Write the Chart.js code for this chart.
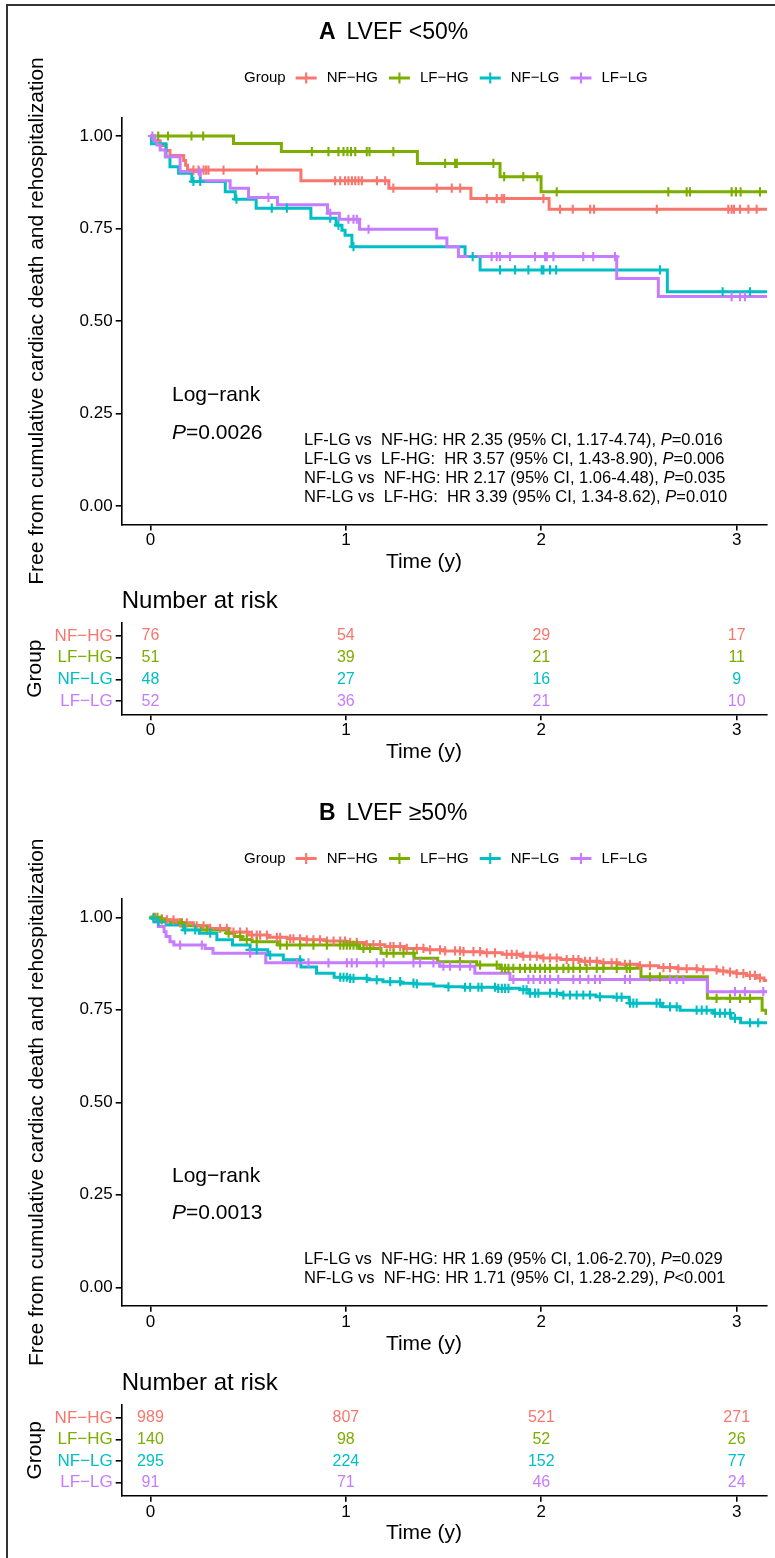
<!DOCTYPE html>
<html>
<head>
<meta charset="utf-8">
<title>Survival by LVEF group</title>
<script src="https://cdn.jsdelivr.net/npm/chart.js@4.4.1/dist/chart.umd.min.js"></script>
<style>
    html, body { margin: 0; padding: 0; background: #fff; }
    #page { position: relative; width: 775px; height: 1558px; overflow: hidden; background: #fff; }
    #page canvas { position: absolute; left: 0; top: 0; }
    #frame { position: absolute; left: 6px; top: 4px; right: -10px; bottom: -10px;
             border-left: 2px solid #333; border-top: 2px solid #333; }
</style>
</head>
<body>
<div id="page">
    <div id="frame"></div>
    <canvas id="kmA" width="775" height="1558"></canvas>
    <canvas id="riskA" width="775" height="1558"></canvas>
    <canvas id="kmB" width="775" height="1558"></canvas>
    <canvas id="riskB" width="775" height="1558"></canvas>
</div>
<script>
const groups = ['NF\u2212HG', 'LF\u2212HG', 'NF\u2212LG', 'LF\u2212LG'];
const groupColors = ['#F8766D', '#7CAE00', '#00BFC4', '#C77CFF'];
const timeTicks = [0, 1, 2, 3];
const survTicks = [0, 0.25, 0.5, 0.75, 1];
const riskTimes = [0, 1, 2, 3];

// Panel A: LVEF <50%
const aNfHgTime = [0, 0.02, 0.05, 0.08, 0.10, 0.17, 0.18, 0.19, 0.77, 1.22, 1.64, 2.04, 3.16];
const aNfHgSurv = [1, 0.987, 0.974, 0.961, 0.947, 0.934, 0.921, 0.908, 0.879, 0.859, 0.831, 0.802, 0.802];
const aNfHgCens = [0.22, 0.246, 0.272, 0.285, 0.297, 0.374, 0.545, 0.945, 0.971, 0.996, 1.013, 1.031, 1.048, 1.065, 1.082, 1.159, 1.201, 1.243, 1.465, 1.542, 1.585, 1.721, 1.772, 1.798, 1.81, 2.011, 2.096, 2.161, 2.25, 2.27, 2.591, 2.957, 2.974, 2.986, 3.017, 3.06, 3.102];

const aLfHgTime = [0, 0.425, 0.67, 1.366, 1.789, 1.999, 3.16];
const aLfHgSurv = [1, 0.980, 0.958, 0.926, 0.890, 0.849, 0.849];
const aLfHgCens = [0.04, 0.09, 0.21, 0.27, 0.826, 0.911, 0.962, 0.988, 1.008, 1.026, 1.048, 1.107, 1.121, 1.243, 1.508, 1.559, 1.568, 1.755, 1.81, 1.908, 1.98, 2.079, 2.65, 2.744, 2.761, 2.974, 2.996, 3.02, 3.119];

const aNfLgTime = [0, 0.005, 0.08, 0.10, 0.144, 0.212, 0.383, 0.434, 0.541, 0.821, 0.95, 0.98, 0.996, 1.031, 1.61, 1.687, 2.645, 3.16];
const aNfLgSurv = [1, 0.979, 0.944, 0.917, 0.899, 0.877, 0.849, 0.829, 0.805, 0.778, 0.759, 0.745, 0.732, 0.701, 0.674, 0.638, 0.579, 0.579];
const aNfLgCens = [0.22, 0.255, 0.44, 0.621, 0.698, 0.92, 0.962, 1.039, 1.649, 1.789, 1.866, 1.934, 2.002, 2.011, 2.045, 2.076, 2.607, 2.928, 3.068];

const aLfLgTime = [0, 0.016, 0.033, 0.05, 0.076, 0.152, 0.255, 0.408, 0.502, 0.65, 0.906, 0.967, 1.07, 1.465, 1.517, 1.576, 2.386, 2.599, 3.16];
const aLfLgSurv = [1, 0.989, 0.976, 0.962, 0.944, 0.904, 0.879, 0.859, 0.834, 0.814, 0.791, 0.775, 0.748, 0.724, 0.701, 0.674, 0.615, 0.566, 0.566];
const aLfLgCens = [0.01, 0.25, 0.604, 0.92, 1.013, 1.039, 1.056, 1.116, 1.746, 1.772, 1.789, 1.84, 1.968, 2.019, 2.028, 2.062, 2.215, 2.266, 2.377, 2.974, 3.017, 3.042];

const aRiskNfHg = [76, 54, 29, 17];
const aRiskLfHg = [51, 39, 21, 11];
const aRiskNfLg = [48, 27, 16, 9];
const aRiskLfLg = [52, 36, 21, 10];

const aHrText = [
    'LF-LG vs  NF-HG: HR 2.35 (95% CI, 1.17-4.74), ',
    'LF-LG vs  LF-HG:  HR 3.57 (95% CI, 1.43-8.90), ',
    'NF-LG vs  NF-HG: HR 2.17 (95% CI, 1.06-4.48), ',
    'NF-LG vs  LF-HG:  HR 3.39 (95% CI, 1.34-8.62), '
];
const aHrP = ['=0.016', '=0.006', '=0.035', '=0.010'];

// Panel B: LVEF >=50%
const bNfHgTime = [0, 0.03, 0.08, 0.15, 0.22, 0.30, 0.40, 0.50, 0.60, 0.70, 0.80, 0.90, 1.00, 1.10, 1.20, 1.30, 1.40, 1.50, 1.60, 1.70, 1.80, 1.90, 2.00, 2.10, 2.20, 2.30, 2.40, 2.50, 2.60, 2.70, 2.80, 2.90, 2.95, 3.00, 3.05, 3.10, 3.14, 3.16];
const bNfHgSurv = [1, 0.996, 0.993, 0.985, 0.977, 0.970, 0.960, 0.952, 0.946, 0.942, 0.939, 0.936, 0.932, 0.926, 0.921, 0.916, 0.912, 0.909, 0.907, 0.904, 0.900, 0.895, 0.890, 0.886, 0.881, 0.877, 0.873, 0.869, 0.864, 0.861, 0.858, 0.855, 0.852, 0.848, 0.843, 0.836, 0.829, 0.829];
const bNfHgCens = [0.024, 0.058, 0.084, 0.118, 0.152, 0.186, 0.237, 0.272, 0.306, 0.357, 0.391, 0.425, 0.459, 0.493, 0.519, 0.544, 0.561, 0.596, 0.647, 0.664, 0.715, 0.732, 0.766, 0.80, 0.834, 0.868, 0.903, 0.937, 0.971, 0.996, 1.022, 1.056, 1.107, 1.141, 1.175, 1.227, 1.244, 1.278, 1.312, 1.363, 1.397, 1.431, 1.482, 1.508, 1.559, 1.584, 1.602, 1.653, 1.687, 1.721, 1.763, 1.823, 1.849, 1.874, 1.908, 1.943, 1.977, 2.011, 2.045, 2.079, 2.13, 2.164, 2.19, 2.224, 2.249, 2.284, 2.318, 2.36, 2.386, 2.428, 2.454, 2.505, 2.556, 2.625, 2.659, 2.701, 2.744, 2.795, 2.829, 2.897, 2.931, 2.966, 3.0, 3.034, 3.068, 3.093, 3.119];

const bLfHgTime = [0, 0.05, 0.10, 0.17, 0.26, 0.39, 0.43, 0.47, 0.52, 0.65, 1.07, 1.18, 1.35, 1.47, 1.67, 1.79, 2.51, 2.85, 3.13, 3.15, 3.16];
const bLfHgSurv = [1, 0.993, 0.985, 0.977, 0.966, 0.957, 0.948, 0.940, 0.934, 0.925, 0.916, 0.903, 0.889, 0.880, 0.871, 0.862, 0.839, 0.781, 0.749, 0.740, 0.740];
const bLfHgCens = [0.016, 0.036, 0.058, 0.161, 0.289, 0.40, 0.459, 0.493, 0.544, 0.664, 0.698, 0.766, 0.834, 0.903, 0.971, 0.988, 1.005, 1.022, 1.039, 1.056, 1.09, 1.124, 1.209, 1.244, 1.295, 1.346, 1.584, 1.687, 1.772, 1.798, 1.815, 1.832, 1.857, 1.891, 1.917, 1.943, 1.968, 1.994, 2.019, 2.045, 2.079, 2.113, 2.139, 2.164, 2.198, 2.232, 2.284, 2.318, 2.386, 2.437, 2.454, 2.556, 2.607, 2.897, 2.966, 3.017, 3.068];

const bNfLgTime = [0, 0.01, 0.02, 0.08, 0.17, 0.25, 0.34, 0.42, 0.51, 0.60, 0.68, 0.77, 0.85, 0.94, 1.02, 1.11, 1.19, 1.28, 1.36, 1.45, 1.52, 1.60, 1.77, 1.89, 1.94, 2.11, 2.28, 2.37, 2.45, 2.62, 2.71, 2.88, 2.97, 3.02, 3.16];
const bNfLgSurv = [1, 0.997, 0.988, 0.979, 0.966, 0.957, 0.939, 0.925, 0.912, 0.898, 0.885, 0.866, 0.849, 0.838, 0.835, 0.831, 0.826, 0.822, 0.820, 0.814, 0.812, 0.811, 0.808, 0.804, 0.795, 0.790, 0.785, 0.784, 0.768, 0.758, 0.749, 0.741, 0.727, 0.715, 0.715];
const bNfLgCens = [0.016, 0.041, 0.178, 0.229, 0.306, 0.51, 0.544, 0.613, 0.766, 0.971, 0.988, 1.005, 1.022, 1.039, 1.107, 1.158, 1.227, 1.278, 1.346, 1.363, 1.525, 1.61, 1.636, 1.678, 1.695, 1.763, 1.78, 1.798, 1.815, 1.832, 1.908, 1.925, 1.943, 1.968, 1.985, 2.045, 2.079, 2.113, 2.147, 2.181, 2.215, 2.249, 2.30, 2.386, 2.411, 2.454, 2.471, 2.488, 2.59, 2.607, 2.659, 2.693, 2.795, 2.821, 2.846, 2.889, 2.914, 2.94, 2.966, 2.991, 3.068, 3.11];

const bLfLgTime = [0, 0.02, 0.04, 0.07, 0.08, 0.10, 0.12, 0.28, 0.32, 0.59, 1.48, 1.66, 1.84, 2.85, 3.16];
const bLfLgSurv = [1, 0.988, 0.975, 0.961, 0.948, 0.934, 0.925, 0.916, 0.903, 0.877, 0.868, 0.849, 0.832, 0.799, 0.799];
const bLfLgCens = [0.152, 0.263, 0.51, 0.749, 0.809, 0.911, 1.005, 1.03, 1.056, 1.158, 1.193, 1.346, 1.38, 1.448, 1.499, 1.533, 1.584, 1.636, 1.857, 1.934, 1.96, 1.994, 2.019, 2.045, 2.087, 2.164, 2.198, 2.241, 2.275, 2.30, 2.428, 2.454, 2.659, 2.693, 2.727, 2.991, 3.042, 3.136];

const bRiskNfHg = [989, 807, 521, 271];
const bRiskLfHg = [140, 98, 52, 26];
const bRiskNfLg = [295, 224, 152, 77];
const bRiskLfLg = [91, 71, 46, 24];

const bHrText = [
    'LF-LG vs  NF-HG: HR 1.69 (95% CI, 1.06-2.70), ',
    'NF-LG vs  NF-HG: HR 1.71 (95% CI, 1.28-2.29), '
];
const bHrP = ['=0.029', '<0.001'];

const FONT = "'Liberation Sans', Arial, Helvetica, sans-serif";
Chart.defaults.font.family = FONT;
Chart.defaults.color = '#000';

const X_AXIS_H = 32;   // height of the bottom axis box (labels are clipped to it)

// value of the step curve at time t
function survAt(times, surv, t) {
    let s = surv[0];
    for (let i = 0; i < times.length; i++) {
        if (times[i] <= t) s = surv[i];
    }
    return s;
}

function drawItalicP(ctx, x, y, before, after, size) {
    ctx.font = size + 'px ' + FONT;
    ctx.fillText(before, x, y);
    x += ctx.measureText(before).width;
    ctx.font = 'italic ' + size + 'px ' + FONT;
    ctx.fillText('P', x, y);
    x += ctx.measureText('P').width;
    ctx.font = size + 'px ' + FONT;
    ctx.fillText(after, x, y);
}

const axisLine = { display: true, color: '#000', width: 1.6 };
const tickGrid = { drawOnChartArea: false, drawTicks: true, tickLength: 6, color: '#000', tickColor: '#000', lineWidth: 1.6, tickWidth: 1.6 };

function timeScale() {
    return {
        type: 'linear',
        min: -0.147,
        max: 3.155,
        afterFit: function (s) { s.height = X_AXIS_H; },
        afterBuildTicks: function (s) { s.ticks = timeTicks.map(v => ({ value: v })); },
        grid: tickGrid,
        border: axisLine,
        ticks: { font: { size: 17 }, color: '#000', padding: 0, maxRotation: 0, autoSkip: false }
    };
}

function kmChart(id, times, survs, cens, deco) {
    const datasets = [];
    groups.forEach(function (g, i) {
        datasets.push({
            type: 'line',
            label: g,
            data: times[i].map((t, j) => ({ x: t, y: survs[i][j] })),
            borderColor: groupColors[i],
            borderWidth: 3,
            stepped: 'before',
            pointRadius: 0,
            fill: false,
            order: 13 - i
        });
        datasets.push({
            type: 'scatter',
            label: g + ' censored',
            data: cens[i].map(t => ({ x: t, y: survAt(times[i], survs[i], t) })),
            pointStyle: 'cross',
            pointRadius: 4.6,
            pointBorderWidth: 2.1,
            borderColor: groupColors[i],
            backgroundColor: groupColors[i],
            order: 3 - i
        });
    });

    return new Chart(document.getElementById(id), {
        type: 'scatter',
        data: { datasets: datasets },
        options: {
            responsive: false,
            animation: false,
            layout: { padding: { left: 0, right: 8, top: deco.top, bottom: 1558 - deco.bottom - X_AXIS_H } },
            plugins: { legend: { display: false }, tooltip: { enabled: false } },
            scales: {
                x: timeScale(),
                y: {
                    type: 'linear',
                    min: -0.05,
                    max: 1.05,
                    afterFit: function (s) { s.width = 121.7; },
                    afterBuildTicks: function (s) { s.ticks = survTicks.map(v => ({ value: v })); },
                    grid: tickGrid,
                    border: axisLine,
                    ticks: { font: { size: 17 }, color: '#000', padding: 3, callback: v => v.toFixed(2) },
                    title: {
                        display: true,
                        text: 'Free from cumulative cardiac death and rehospitalization',
                        font: { size: 21 },
                        color: '#000',
                        padding: { top: 24.4, bottom: 0 }
                    }
                }
            }
        },
        plugins: [{
            id: 'kmDecor',
            afterDraw: function (chart) {
                const ctx = chart.ctx;
                const area = chart.chartArea;
                ctx.save();
                ctx.textBaseline = 'middle';
                ctx.textAlign = 'left';
                ctx.fillStyle = '#000';

                ctx.font = 'bold 23px ' + FONT;
                ctx.fillText(deco.letter, 319, deco.titleY);
                ctx.font = '23px ' + FONT;
                ctx.fillText(deco.title, 346.5, deco.titleY);

                // legend row
                let x = 244;
                const y = deco.legendY;
                ctx.font = '15px ' + FONT;
                ctx.fillText('Group', x, y);
                x += ctx.measureText('Group').width + 10;
                groups.forEach(function (g, i) {
                    ctx.strokeStyle = groupColors[i];
                    ctx.lineWidth = 3;
                    ctx.beginPath();
                    ctx.moveTo(x, y);
                    ctx.lineTo(x + 21, y);
                    ctx.stroke();
                    ctx.lineWidth = 2.1;
                    ctx.beginPath();
                    ctx.moveTo(x + 10.5, y - 5.5);
                    ctx.lineTo(x + 10.5, y + 5.5);
                    ctx.stroke();
                    x += 31;
                    ctx.fillText(g, x, y);
                    x += ctx.measureText(g).width + 11;
                });

                ctx.font = '21px ' + FONT;
                ctx.textAlign = 'center';
                ctx.fillText('Time (y)', 424, area.bottom + 38);

                ctx.textAlign = 'left';
                ctx.fillText('Log\u2212rank', 172, deco.logY);
                drawItalicP(ctx, 172, deco.pY, '', deco.p, 21);

                deco.hrText.forEach(function (line, i) {
                    drawItalicP(ctx, 304, deco.hrY[i], line, deco.hrP[i], 16.5);
                });
                ctx.restore();
            }
        }]
    });
}

function riskChart(id, counts, deco) {
    const datasets = groups.map((g, i) => ({
        type: 'scatter',
        label: g,
        data: riskTimes.map(t => ({ x: t, y: i + 1 })),
        counts: counts[i],
        labelColor: groupColors[i],
        pointRadius: 0
    }));

    return new Chart(document.getElementById(id), {
        type: 'scatter',
        data: { datasets: datasets },
        options: {
            responsive: false,
            animation: false,
            layout: { padding: { left: 0, right: 8, top: deco.top, bottom: 1558 - deco.bottom - X_AXIS_H } },
            plugins: { legend: { display: false }, tooltip: { enabled: false } },
            scales: {
                x: timeScale(),
                y: {
                    type: 'linear',
                    reverse: true,
                    min: 0.4,
                    max: 4.6,
                    afterFit: function (s) { s.width = 121.7; },
                    afterBuildTicks: function (s) { s.ticks = groups.map((g, i) => ({ value: i + 1 })); },
                    grid: tickGrid,
                    border: axisLine,
                    ticks: {
                        font: { size: 17 },
                        padding: 3,
                        color: c => groupColors[c.index],
                        callback: v => groups[v - 1]
                    },
                    title: { display: true, text: 'Group', font: { size: 21 }, color: '#000', padding: { top: 22.4, bottom: 0 } }
                }
            }
        },
        plugins: [{
            id: 'riskDecor',
            afterDatasetsDraw: function (chart) {
                const ctx = chart.ctx;
                ctx.save();
                ctx.font = '16px ' + FONT;
                ctx.textAlign = 'center';
                ctx.textBaseline = 'middle';
                chart.data.datasets.forEach(function (dataset, i) {
                    const meta = chart.getDatasetMeta(i);
                    meta.data.forEach(function (pt, j) {
                        ctx.fillStyle = dataset.labelColor;
                        ctx.fillText(dataset.counts[j], pt.x, pt.y);
                    });
                });
                ctx.restore();
            },
            afterDraw: function (chart) {
                const ctx = chart.ctx;
                const area = chart.chartArea;
                ctx.save();
                ctx.fillStyle = '#000';
                ctx.textBaseline = 'middle';
                ctx.textAlign = 'left';
                ctx.font = '24px ' + FONT;
                ctx.fillText('Number at risk', area.left, area.top - 21.5);
                ctx.font = '21px ' + FONT;
                ctx.textAlign = 'center';
                ctx.fillText('Time (y)', 424, area.bottom + 38);
                ctx.restore();
            }
        }]
    });
}

kmChart('kmA',
    [aNfHgTime, aLfHgTime, aNfLgTime, aLfLgTime],
    [aNfHgSurv, aLfHgSurv, aNfLgSurv, aLfLgSurv],
    [aNfHgCens, aLfHgCens, aNfLgCens, aLfLgCens],
    {
        top: 117.5, bottom: 524.5, letter: 'A', title: 'LVEF <50%', titleY: 33, legendY: 78,
        logY: 395, pY: 433, p: '=0.0026',
        hrText: aHrText, hrP: aHrP, hrY: [440, 459.3, 478.3, 497.7]
    });

riskChart('riskA', [aRiskNfHg, aRiskLfHg, aRiskNfLg, aRiskLfLg], { top: 623, bottom: 714.3 });

kmChart('kmB',
    [bNfHgTime, bLfHgTime, bNfLgTime, bLfLgTime],
    [bNfHgSurv, bLfHgSurv, bNfLgSurv, bLfLgSurv],
    [bNfHgCens, bLfHgCens, bNfLgCens, bLfLgCens],
    {
        top: 898.8, bottom: 1305.8, letter: 'B', title: 'LVEF \u226550%', titleY: 814, legendY: 858.5,
        logY: 1176.5, pY: 1213.5, p: '=0.0013',
        hrText: bHrText, hrP: bHrP, hrY: [1259.5, 1278.5]
    });

riskChart('riskB', [bRiskNfHg, bRiskLfHg, bRiskNfLg, bRiskLfLg], { top: 1405, bottom: 1495.7 });
</script>
</body>
</html>
